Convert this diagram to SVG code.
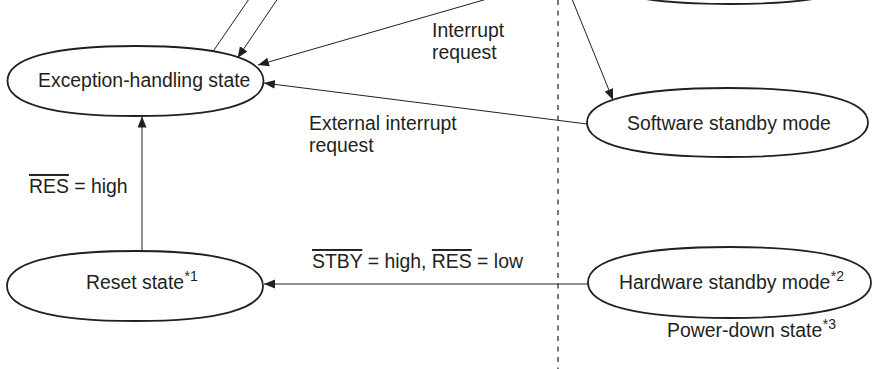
<svg xmlns="http://www.w3.org/2000/svg" width="872" height="369" viewBox="0 0 872 369">
  <style>
    .state { fill: #ffffff; stroke: #231f20; stroke-width: 1.8; }
    .edge { fill: none; stroke: #231f20; stroke-width: 1; }
    .divider { fill: none; stroke: #231f20; stroke-width: 1.2; stroke-dasharray: 5 5.5; }
    text { font-family: "Liberation Sans", Arial, Helvetica, sans-serif; font-size: 19.4px; fill: #231f20; }
    .sup { font-size: 14px; }
    .bar { text-decoration: overline; }
  </style>
  <defs>
    <marker id="arrow" markerUnits="userSpaceOnUse" markerWidth="12" markerHeight="10" refX="11" refY="4.5" orient="auto">
      <path d="M0,0 L11,4.5 L0,9 Z" fill="#231f20"/>
    </marker>
  </defs>

  <!-- boundary of the power-down region -->
  <line class="divider" x1="558" y1="0" x2="558" y2="369"/>

  <!-- states -->
  <g id="program-state">
    <path class="state" d="M589.5,-31 C589.5,-53.75 638.5,-66 729.5,-66 C820.5,-66 869.5,-53.75 869.5,-31 C869.5,-8.25 820.5,4 729.5,4 C638.5,4 589.5,-8.25 589.5,-31 Z"/>
  </g>

  <g id="exception-handling">
    <path class="state" d="M7.5,81 C7.5,58.25 52.3,46 135.5,46 C218.7,46 263.5,58.25 263.5,81 C263.5,103.75 218.7,116 135.5,116 C52.3,116 7.5,103.75 7.5,81 Z"/>
    <text x="38" y="87">Exception-handling state</text>
  </g>

  <g id="software-standby">
    <path class="state" d="M587,122.5 C587,100.1 636.2,88 727.5,88 C818.8,88 868,100.1 868,122.5 C868,144.9 818.8,157 727.5,157 C636.2,157 587,144.9 587,122.5 Z"/>
    <text x="627" y="129.5">Software standby mode</text>
  </g>

  <g id="reset">
    <path class="state" d="M7,286 C7,263.25 51.8,251 135,251 C218.2,251 263,263.25 263,286 C263,308.75 218.2,321 135,321 C51.8,321 7,308.75 7,286 Z"/>
    <text x="86" y="289">Reset state<tspan class="sup" dx="0.5" dy="-8">*1</tspan></text>
  </g>

  <g id="hardware-standby">
    <path class="state" d="M588,282.5 C588,259.4 637.5,247 729.5,247 C821.5,247 871,259.4 871,282.5 C871,305.6 821.5,318 729.5,318 C637.5,318 588,305.6 588,282.5 Z"/>
    <text x="619" y="289">Hardware standby mode<tspan class="sup" dx="0.5" dy="-8">*2</tspan></text>
  </g>

  <g id="power-down-label">
    <text x="667" y="337">Power-down state<tspan class="sup" dx="0.5" dy="-8">*3</tspan></text>
  </g>

  <!-- transitions -->
  <g id="connectors">
    <line class="edge" x1="213" y1="51.5" x2="249" y2="-1"/>
    <line class="edge" x1="277.5" y1="-1" x2="237.5" y2="58" marker-end="url(#arrow)"/>
    <line class="edge" x1="487" y1="-1" x2="258" y2="65" marker-end="url(#arrow)"/>
    <line class="edge" x1="587" y1="124" x2="264" y2="83" marker-end="url(#arrow)"/>
    <line class="edge" x1="572" y1="-1" x2="613" y2="100" marker-end="url(#arrow)"/>
    <line class="edge" x1="142" y1="251" x2="142" y2="116.5" marker-end="url(#arrow)"/>
    <line class="edge" x1="588" y1="284" x2="264" y2="284" marker-end="url(#arrow)"/>
  </g>

  <!-- transition conditions -->
  <g id="labels">
    <text x="432" y="37">Interrupt</text>
    <text x="432" y="59">request</text>
    <text x="309" y="130">External interrupt</text>
    <text x="309" y="152">request</text>
    <text x="29" y="193"><tspan class="bar">RES</tspan> = high</text>
    <text x="312" y="268"><tspan class="bar">STBY</tspan> = high, <tspan class="bar">RES</tspan> = low</text>
  </g>
</svg>
